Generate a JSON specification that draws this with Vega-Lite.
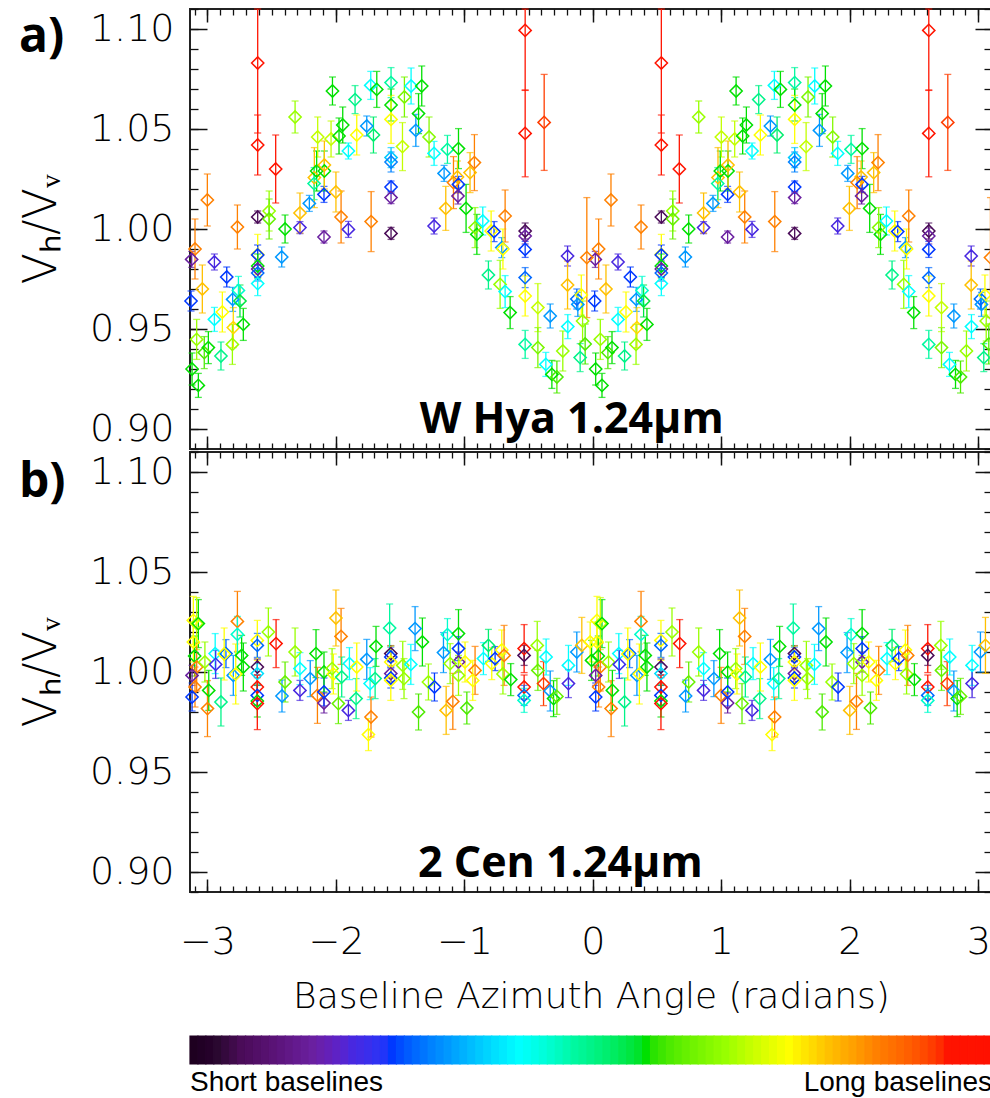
{
"$schema": "https://vega.github.io/schema/vega-lite/v6.json",
"padding": {"left": 17, "top": 7, "right": 0, "bottom": 2},
"background": "white",
"spacing": 20,
"datasets": {
"whya": [
{"x":-2.609,"y":1.083,"e":0.035,"c":0.95},{"x":0.533,"y":1.083,"e":0.035,"c":0.95},
{"x":-2.609,"y":1.042,"e":0.015,"c":0.95},{"x":0.533,"y":1.042,"e":0.015,"c":0.95},
{"x":-2.469,"y":1.03,"e":0.017,"c":0.95},{"x":0.673,"y":1.03,"e":0.017,"c":0.95},
{"x":-3.001,"y":1.0145,"e":0.013,"c":0.86},{"x":0.141,"y":1.0145,"e":0.013,"c":0.86},
{"x":-3.097,"y":0.99,"e":0.015,"c":0.86},{"x":0.045,"y":0.99,"e":0.015,"c":0.86},
{"x":-2.767,"y":1.001,"e":0.011,"c":0.86},{"x":0.375,"y":1.001,"e":0.011,"c":0.86},
{"x":-2.609,"y":1.006,"e":0.003,"c":0.06},{"x":0.533,"y":1.006,"e":0.003,"c":0.06},
{"x":-2.52,"y":1.009,"e":0.01,"c":0.67},{"x":0.622,"y":1.009,"e":0.01,"c":0.67},
{"x":-2.52,"y":1.005,"e":0.01,"c":0.62},{"x":0.622,"y":1.005,"e":0.01,"c":0.62},
{"x":-2.396,"y":1.0,"e":0.007,"c":0.57},{"x":0.746,"y":1.0,"e":0.007,"c":0.57},
{"x":-2.28,"y":1.0007,"e":0.003,"c":0.2},{"x":0.862,"y":1.0007,"e":0.003,"c":0.2},
{"x":-2.28,"y":1.008,"e":0.01,"c":0.8},{"x":0.862,"y":1.008,"e":0.01,"c":0.8},
{"x":-2.207,"y":1.0128,"e":0.004,"c":0.32},{"x":0.935,"y":1.0128,"e":0.004,"c":0.32},
{"x":-2.093,"y":1.0173,"e":0.004,"c":0.25},{"x":1.049,"y":1.0173,"e":0.004,"c":0.25},
{"x":-2.093,"y":0.996,"e":0.003,"c":0.15},{"x":1.049,"y":0.996,"e":0.003,"c":0.15},
{"x":-2.168,"y":1.0257,"e":0.015,"c":0.8},{"x":0.974,"y":1.0257,"e":0.015,"c":0.8},
{"x":-2.15,"y":1.029,"e":0.01,"c":0.57},{"x":0.992,"y":1.029,"e":0.01,"c":0.57},
{"x":-2.09,"y":1.029,"e":0.01,"c":0.57},{"x":1.052,"y":1.029,"e":0.01,"c":0.57},
{"x":-2.17,"y":1.0227,"e":0.008,"c":0.48},{"x":0.972,"y":1.0227,"e":0.008,"c":0.48},
{"x":-2.09,"y":1.032,"e":0.012,"c":0.8},{"x":1.052,"y":1.032,"e":0.012,"c":0.8},
{"x":-2.318,"y":1.056,"e":0.008,"c":0.67},{"x":0.824,"y":1.056,"e":0.008,"c":0.67},
{"x":-2.142,"y":1.046,"e":0.01,"c":0.7},{"x":1.0,"y":1.046,"e":0.01,"c":0.7},
{"x":-2.038,"y":1.045,"e":0.009,"c":0.7},{"x":1.104,"y":1.045,"e":0.009,"c":0.7},
{"x":-1.976,"y":1.0465,"e":0.009,"c":0.57},{"x":1.166,"y":1.0465,"e":0.009,"c":0.57},
{"x":-2.027,"y":1.069,"e":0.007,"c":0.57},{"x":1.115,"y":1.069,"e":0.007,"c":0.57},
{"x":-1.947,"y":1.052,"e":0.009,"c":0.57},{"x":1.195,"y":1.052,"e":0.009,"c":0.57},
{"x":-1.851,"y":1.0647,"e":0.007,"c":0.5},{"x":1.291,"y":1.0647,"e":0.007,"c":0.5},
{"x":-1.903,"y":1.039,"e":0.004,"c":0.41},{"x":1.239,"y":1.039,"e":0.004,"c":0.41},
{"x":-1.838,"y":1.047,"e":0.01,"c":0.75},{"x":1.304,"y":1.047,"e":0.01,"c":0.75},
{"x":-2.0,"y":1.0185,"e":0.01,"c":0.8},{"x":1.142,"y":1.0185,"e":0.01,"c":0.8},
{"x":-1.96,"y":1.006,"e":0.013,"c":0.86},{"x":1.182,"y":1.006,"e":0.013,"c":0.86},
{"x":-1.903,"y":0.9998,"e":0.004,"c":0.2},{"x":1.239,"y":0.9998,"e":0.004,"c":0.2},
{"x":-1.76,"y":1.0515,"e":0.005,"c":0.32},{"x":1.382,"y":1.0515,"e":0.005,"c":0.32},
{"x":-1.729,"y":1.0718,"e":0.007,"c":0.41},{"x":1.413,"y":1.0718,"e":0.007,"c":0.41},
{"x":-1.682,"y":1.0698,"e":0.009,"c":0.57},{"x":1.46,"y":1.0698,"e":0.009,"c":0.57},
{"x":-1.708,"y":1.047,"e":0.009,"c":0.52},{"x":1.434,"y":1.047,"e":0.009,"c":0.52},
{"x":-1.726,"y":1.0037,"e":0.015,"c":0.86},{"x":1.416,"y":1.0037,"e":0.015,"c":0.86},
{"x":-1.571,"y":1.0732,"e":0.0075,"c":0.48},{"x":1.571,"y":1.0732,"e":0.0075,"c":0.48},
{"x":-1.571,"y":1.062,"e":0.008,"c":0.57},{"x":1.571,"y":1.062,"e":0.008,"c":0.57},
{"x":-1.571,"y":1.0548,"e":0.012,"c":0.75},{"x":1.571,"y":1.0548,"e":0.012,"c":0.75},
{"x":-1.571,"y":1.0357,"e":0.005,"c":0.36},{"x":1.571,"y":1.0357,"e":0.005,"c":0.36},
{"x":-1.571,"y":1.0335,"e":0.005,"c":0.3},{"x":1.571,"y":1.0335,"e":0.005,"c":0.3},
{"x":-1.571,"y":1.021,"e":0.003,"c":0.25},{"x":1.571,"y":1.021,"e":0.003,"c":0.25},
{"x":-1.571,"y":1.0157,"e":0.003,"c":0.15},{"x":1.571,"y":1.0157,"e":0.003,"c":0.15},
{"x":-1.571,"y":0.9978,"e":0.003,"c":0.06},{"x":1.571,"y":0.9978,"e":0.003,"c":0.06},
{"x":-1.467,"y":1.066,"e":0.01,"c":0.64},{"x":1.675,"y":1.066,"e":0.01,"c":0.64},
{"x":-1.415,"y":1.0715,"e":0.009,"c":0.41},{"x":1.727,"y":1.0715,"e":0.009,"c":0.41},
{"x":-1.332,"y":1.0715,"e":0.01,"c":0.57},{"x":1.81,"y":1.0715,"e":0.01,"c":0.57},
{"x":-1.357,"y":1.0577,"e":0.01,"c":0.57},{"x":1.785,"y":1.0577,"e":0.01,"c":0.57},
{"x":-1.378,"y":1.0493,"e":0.008,"c":0.32},{"x":1.764,"y":1.0493,"e":0.008,"c":0.32},
{"x":-1.482,"y":1.0412,"e":0.012,"c":0.7},{"x":1.66,"y":1.0412,"e":0.012,"c":0.7},
{"x":-1.275,"y":1.046,"e":0.01,"c":0.65},{"x":1.867,"y":1.046,"e":0.01,"c":0.65},
{"x":-1.236,"y":1.0378,"e":0.006,"c":0.41},{"x":1.906,"y":1.0378,"e":0.006,"c":0.41},
{"x":-1.158,"y":1.0278,"e":0.004,"c":0.32},{"x":1.984,"y":1.0278,"e":0.004,"c":0.32},
{"x":-1.132,"y":1.0398,"e":0.007,"c":0.48},{"x":2.01,"y":1.0398,"e":0.007,"c":0.48},
{"x":-1.046,"y":1.0402,"e":0.01,"c":0.57},{"x":2.096,"y":1.0402,"e":0.01,"c":0.57},
{"x":-1.085,"y":1.0232,"e":0.013,"c":0.86},{"x":2.057,"y":1.0232,"e":0.013,"c":0.86},
{"x":-0.922,"y":1.0332,"e":0.014,"c":0.86},{"x":2.22,"y":1.0332,"e":0.014,"c":0.86},
{"x":-0.956,"y":1.0282,"e":0.01,"c":0.8},{"x":2.186,"y":1.0282,"e":0.01,"c":0.8},
{"x":-1.054,"y":1.026,"e":0.008,"c":0.8},{"x":2.088,"y":1.026,"e":0.008,"c":0.8},
{"x":-1.046,"y":1.0223,"e":0.004,"c":0.25},{"x":2.096,"y":1.0223,"e":0.004,"c":0.25},
{"x":-1.05,"y":1.0165,"e":0.004,"c":0.15},{"x":2.092,"y":1.0165,"e":0.004,"c":0.15},
{"x":-1.145,"y":1.0103,"e":0.011,"c":0.8},{"x":1.997,"y":1.0103,"e":0.011,"c":0.8},
{"x":-0.987,"y":1.0103,"e":0.012,"c":0.57},{"x":2.155,"y":1.0103,"e":0.012,"c":0.57},
{"x":-1.236,"y":1.0015,"e":0.004,"c":0.2},{"x":1.906,"y":1.0015,"e":0.004,"c":0.2},
{"x":-0.903,"y":0.9973,"e":0.01,"c":0.57},{"x":2.239,"y":0.9973,"e":0.01,"c":0.57},
{"x":-0.917,"y":1.0007,"e":0.01,"c":0.65},{"x":2.225,"y":1.0007,"e":0.01,"c":0.65},
{"x":-0.857,"y":1.004,"e":0.007,"c":0.41},{"x":2.285,"y":1.004,"e":0.007,"c":0.41},
{"x":-0.792,"y":0.999,"e":0.01,"c":0.75},{"x":2.35,"y":0.999,"e":0.01,"c":0.75},
{"x":-0.769,"y":0.9987,"e":0.005,"c":0.25},{"x":2.373,"y":0.9987,"e":0.005,"c":0.25},
{"x":-0.683,"y":1.0065,"e":0.013,"c":0.86},{"x":2.459,"y":1.0065,"e":0.013,"c":0.86},
{"x":-0.709,"y":0.9907,"e":0.005,"c":0.32},{"x":2.433,"y":0.9907,"e":0.005,"c":0.32},
{"x":-0.7,"y":0.99,"e":0.01,"c":0.75},{"x":2.442,"y":0.99,"e":0.01,"c":0.75},
{"x":-0.527,"y":0.999,"e":0.004,"c":0.06},{"x":2.615,"y":0.999,"e":0.004,"c":0.06},
{"x":-0.527,"y":0.9965,"e":0.004,"c":0.15},{"x":2.615,"y":0.9965,"e":0.004,"c":0.15},
{"x":-0.527,"y":0.9898,"e":0.004,"c":0.25},{"x":2.615,"y":0.9898,"e":0.004,"c":0.25},
{"x":-0.527,"y":0.9757,"e":0.005,"c":0.28},{"x":2.615,"y":0.9757,"e":0.005,"c":0.28},
{"x":-0.527,"y":0.9665,"e":0.01,"c":0.75},{"x":2.615,"y":0.9665,"e":0.01,"c":0.75},
{"x":-0.527,"y":1.0993,"e":0.03,"c":0.95},{"x":2.615,"y":1.0993,"e":0.03,"c":0.95},
{"x":-0.527,"y":1.0478,"e":0.0217,"c":0.95},{"x":2.615,"y":1.0478,"e":0.0217,"c":0.95},
{"x":-0.379,"y":1.0533,"e":0.024,"c":0.93},{"x":2.763,"y":1.0533,"e":0.024,"c":0.93},
{"x":-0.197,"y":0.9865,"e":0.005,"c":0.2},{"x":2.945,"y":0.9865,"e":0.005,"c":0.2},
{"x":-0.197,"y":0.972,"e":0.012,"c":0.8},{"x":2.945,"y":0.972,"e":0.012,"c":0.8},
{"x":-0.125,"y":0.965,"e":0.005,"c":0.28},{"x":3.017,"y":0.965,"e":0.005,"c":0.28},
{"x":-0.09,"y":0.967,"e":0.01,"c":0.75},{"x":3.052,"y":0.967,"e":0.01,"c":0.75},
{"x":-3.123,"y":0.9848,"e":0.004,"c":0.15},{"x":0.019,"y":0.9848,"e":0.004,"c":0.15},
{"x":-2.946,"y":0.9835,"e":0.004,"c":0.2},{"x":0.196,"y":0.9835,"e":0.004,"c":0.2},
{"x":-2.85,"y":0.976,"e":0.005,"c":0.25},{"x":0.292,"y":0.976,"e":0.005,"c":0.25},
{"x":-3.04,"y":0.97,"e":0.012,"c":0.8},{"x":0.102,"y":0.97,"e":0.012,"c":0.8},
{"x":-2.609,"y":0.9873,"e":0.01,"c":0.75},{"x":0.533,"y":0.9873,"e":0.01,"c":0.75},
{"x":-2.609,"y":0.987,"e":0.005,"c":0.25},{"x":0.533,"y":0.987,"e":0.005,"c":0.25},
{"x":-2.609,"y":0.9815,"e":0.006,"c":0.57},{"x":0.533,"y":0.9815,"e":0.006,"c":0.57},
{"x":-2.609,"y":0.98,"e":0.004,"c":0.15},{"x":0.533,"y":0.98,"e":0.004,"c":0.15},
{"x":-2.609,"y":0.978,"e":0.004,"c":0.28},{"x":0.533,"y":0.978,"e":0.004,"c":0.28},
{"x":-2.609,"y":0.9727,"e":0.006,"c":0.41},{"x":0.533,"y":0.9727,"e":0.006,"c":0.41},
{"x":-2.422,"y":0.986,"e":0.005,"c":0.32},{"x":0.72,"y":0.986,"e":0.005,"c":0.32},
{"x":-3.128,"y":0.964,"e":0.005,"c":0.25},{"x":0.014,"y":0.964,"e":0.005,"c":0.25},
{"x":-3.084,"y":0.9448,"e":0.01,"c":0.67},{"x":0.058,"y":0.9448,"e":0.01,"c":0.67},
{"x":-3.12,"y":0.93,"e":0.008,"c":0.57},{"x":0.022,"y":0.93,"e":0.008,"c":0.57},
{"x":-3.071,"y":0.9218,"e":0.006,"c":0.57},{"x":0.071,"y":0.9218,"e":0.006,"c":0.57},
{"x":-3.025,"y":0.9382,"e":0.008,"c":0.6},{"x":0.117,"y":0.9382,"e":0.008,"c":0.6},
{"x":-2.993,"y":0.9407,"e":0.008,"c":0.57},{"x":0.149,"y":0.9407,"e":0.008,"c":0.57},
{"x":-2.895,"y":0.9365,"e":0.007,"c":0.5},{"x":0.247,"y":0.9365,"e":0.007,"c":0.5},
{"x":-2.946,"y":0.9548,"e":0.006,"c":0.41},{"x":0.196,"y":0.9548,"e":0.006,"c":0.41},
{"x":-2.884,"y":0.9585,"e":0.01,"c":0.75},{"x":0.258,"y":0.9585,"e":0.01,"c":0.75},
{"x":-2.804,"y":0.9648,"e":0.006,"c":0.32},{"x":0.338,"y":0.9648,"e":0.006,"c":0.32},
{"x":-2.759,"y":0.9693,"e":0.007,"c":0.45},{"x":0.383,"y":0.9693,"e":0.007,"c":0.45},
{"x":-2.747,"y":0.964,"e":0.008,"c":0.55},{"x":0.395,"y":0.964,"e":0.008,"c":0.55},
{"x":-2.799,"y":0.9507,"e":0.01,"c":0.78},{"x":0.343,"y":0.9507,"e":0.01,"c":0.78},
{"x":-2.806,"y":0.9423,"e":0.01,"c":0.67},{"x":0.336,"y":0.9423,"e":0.01,"c":0.67},
{"x":-2.721,"y":0.9523,"e":0.008,"c":0.57},{"x":0.421,"y":0.9523,"e":0.008,"c":0.57},
{"x":-0.813,"y":0.977,"e":0.007,"c":0.5},{"x":2.329,"y":0.977,"e":0.007,"c":0.5},
{"x":-0.722,"y":0.9723,"e":0.012,"c":0.67},{"x":2.42,"y":0.9723,"e":0.012,"c":0.67},
{"x":-0.683,"y":0.9687,"e":0.008,"c":0.41},{"x":2.459,"y":0.9687,"e":0.008,"c":0.41},
{"x":-0.644,"y":0.9582,"e":0.008,"c":0.57},{"x":2.498,"y":0.9582,"e":0.008,"c":0.57},
{"x":-0.428,"y":0.9607,"e":0.012,"c":0.7},{"x":2.714,"y":0.9607,"e":0.012,"c":0.7},
{"x":-0.332,"y":0.9565,"e":0.006,"c":0.32},{"x":2.81,"y":0.9565,"e":0.006,"c":0.32},
{"x":-0.527,"y":0.9423,"e":0.007,"c":0.48},{"x":2.615,"y":0.9423,"e":0.007,"c":0.48},
{"x":-0.428,"y":0.9407,"e":0.01,"c":0.64},{"x":2.714,"y":0.9407,"e":0.01,"c":0.64},
{"x":-0.366,"y":0.9323,"e":0.006,"c":0.41},{"x":2.776,"y":0.9323,"e":0.006,"c":0.41},
{"x":-0.319,"y":0.9273,"e":0.007,"c":0.57},{"x":2.823,"y":0.9273,"e":0.007,"c":0.57},
{"x":-0.28,"y":0.926,"e":0.008,"c":0.6},{"x":2.862,"y":0.926,"e":0.008,"c":0.6},
{"x":-0.234,"y":0.939,"e":0.01,"c":0.67},{"x":2.908,"y":0.939,"e":0.01,"c":0.67},
{"x":-0.195,"y":0.9512,"e":0.006,"c":0.41},{"x":2.947,"y":0.9512,"e":0.006,"c":0.41},
{"x":-0.117,"y":0.9623,"e":0.006,"c":0.32},{"x":3.025,"y":0.9623,"e":0.006,"c":0.32},
{"x":-0.099,"y":0.9357,"e":0.007,"c":0.5},{"x":3.043,"y":0.9357,"e":0.007,"c":0.5},
{"x":-0.047,"y":0.9857,"e":0.03,"c":0.86},{"x":3.095,"y":0.9857,"e":0.03,"c":0.86},
{"x":-0.08,"y":0.954,"e":0.01,"c":0.67},{"x":3.062,"y":0.954,"e":0.01,"c":0.67},
{"x":-0.06,"y":0.9425,"e":0.01,"c":0.6},{"x":3.082,"y":0.9425,"e":0.01,"c":0.6}
],
"cen": [
{"x":-3.11,"y":1.0258,"e":0.012,"c":0.75},{"x":0.032,"y":1.0258,"e":0.012,"c":0.75},
{"x":-3.084,"y":1.0242,"e":0.013,"c":0.7},{"x":0.058,"y":1.0242,"e":0.013,"c":0.7},
{"x":-3.071,"y":1.0242,"e":0.012,"c":0.57},{"x":0.071,"y":1.0242,"e":0.012,"c":0.57},
{"x":-3.11,"y":1.015,"e":0.01,"c":0.75},{"x":0.032,"y":1.015,"e":0.01,"c":0.75},
{"x":-3.1,"y":1.008,"e":0.01,"c":0.57},{"x":0.042,"y":1.008,"e":0.01,"c":0.57},
{"x":-3.084,"y":1.0025,"e":0.012,"c":0.86},{"x":0.058,"y":1.0025,"e":0.012,"c":0.86},
{"x":-3.12,"y":0.9983,"e":0.005,"c":0.15},{"x":0.022,"y":0.9983,"e":0.005,"c":0.15},
{"x":-3.097,"y":0.9925,"e":0.01,"c":0.86},{"x":0.045,"y":0.9925,"e":0.01,"c":0.86},
{"x":-3.12,"y":0.9875,"e":0.007,"c":0.25},{"x":0.022,"y":0.9875,"e":0.007,"c":0.25},
{"x":-2.99,"y":0.9908,"e":0.01,"c":0.57},{"x":0.152,"y":0.9908,"e":0.01,"c":0.57},
{"x":-3.0,"y":0.9817,"e":0.014,"c":0.86},{"x":0.142,"y":0.9817,"e":0.014,"c":0.86},
{"x":-3.02,"y":1.005,"e":0.01,"c":0.67},{"x":0.122,"y":1.005,"e":0.01,"c":0.67},
{"x":-2.895,"y":0.985,"e":0.012,"c":0.5},{"x":0.247,"y":0.985,"e":0.012,"c":0.5},
{"x":-2.94,"y":1.0092,"e":0.01,"c":0.41},{"x":0.202,"y":1.0092,"e":0.01,"c":0.41},
{"x":-2.936,"y":1.0038,"e":0.007,"c":0.22},{"x":0.206,"y":1.0038,"e":0.007,"c":0.22},
{"x":-2.856,"y":1.0092,"e":0.007,"c":0.28},{"x":0.286,"y":1.0092,"e":0.007,"c":0.28},
{"x":-2.87,"y":1.009,"e":0.013,"c":0.75},{"x":0.272,"y":1.009,"e":0.013,"c":0.75},
{"x":-2.767,"y":1.0253,"e":0.015,"c":0.86},{"x":0.375,"y":1.0253,"e":0.015,"c":0.86},
{"x":-2.767,"y":1.0188,"e":0.009,"c":0.45},{"x":0.375,"y":1.0188,"e":0.009,"c":0.45},
{"x":-2.799,"y":0.9983,"e":0.01,"c":0.32},{"x":0.343,"y":0.9983,"e":0.01,"c":0.32},
{"x":-2.734,"y":1.0083,"e":0.01,"c":0.57},{"x":0.408,"y":1.0083,"e":0.01,"c":0.57},
{"x":-2.721,"y":1.0025,"e":0.012,"c":0.57},{"x":0.421,"y":1.0025,"e":0.012,"c":0.57},
{"x":-2.78,"y":0.999,"e":0.015,"c":0.75},{"x":0.362,"y":0.999,"e":0.015,"c":0.75},
{"x":-2.612,"y":1.0158,"e":0.01,"c":0.75},{"x":0.53,"y":1.0158,"e":0.01,"c":0.75},
{"x":-2.612,"y":1.0133,"e":0.006,"c":0.28},{"x":0.53,"y":1.0133,"e":0.006,"c":0.28},
{"x":-2.612,"y":1.0025,"e":0.004,"c":0.06},{"x":0.53,"y":1.0025,"e":0.004,"c":0.06},
{"x":-2.612,"y":0.9992,"e":0.005,"c":0.38},{"x":0.53,"y":0.9992,"e":0.005,"c":0.38},
{"x":-2.612,"y":0.9925,"e":0.006,"c":0.95},{"x":0.53,"y":0.9925,"e":0.006,"c":0.95},
{"x":-2.612,"y":0.9883,"e":0.005,"c":0.25},{"x":0.53,"y":0.9883,"e":0.005,"c":0.25},
{"x":-2.612,"y":0.9855,"e":0.008,"c":0.57},{"x":0.53,"y":0.9855,"e":0.008,"c":0.57},
{"x":-2.612,"y":0.9842,"e":0.013,"c":0.95},{"x":0.53,"y":0.9842,"e":0.013,"c":0.95},
{"x":-2.526,"y":1.02,"e":0.012,"c":0.67},{"x":0.616,"y":1.02,"e":0.012,"c":0.67},
{"x":-2.466,"y":1.0142,"e":0.012,"c":0.95},{"x":0.676,"y":1.0142,"e":0.012,"c":0.95},
{"x":-2.396,"y":0.995,"e":0.01,"c":0.62},{"x":0.746,"y":0.995,"e":0.01,"c":0.62},
{"x":-2.42,"y":0.988,"e":0.008,"c":0.32},{"x":0.722,"y":0.988,"e":0.008,"c":0.32},
{"x":-2.318,"y":1.01,"e":0.012,"c":0.67},{"x":0.824,"y":1.01,"e":0.012,"c":0.67},
{"x":-2.28,"y":1.0017,"e":0.008,"c":0.41},{"x":0.862,"y":1.0017,"e":0.008,"c":0.41},
{"x":-2.28,"y":0.9908,"e":0.005,"c":0.2},{"x":0.862,"y":0.9908,"e":0.005,"c":0.2},
{"x":-2.2,"y":0.9967,"e":0.009,"c":0.32},{"x":0.942,"y":0.9967,"e":0.009,"c":0.32},
{"x":-2.155,"y":1.0092,"e":0.012,"c":0.57},{"x":0.987,"y":1.0092,"e":0.012,"c":0.57},
{"x":-2.144,"y":0.9883,"e":0.014,"c":0.86},{"x":0.998,"y":0.9883,"e":0.014,"c":0.86},
{"x":-2.093,"y":0.9845,"e":0.005,"c":0.15},{"x":1.049,"y":0.9845,"e":0.005,"c":0.15},
{"x":-2.093,"y":0.99,"e":0.007,"c":0.25},{"x":1.049,"y":0.99,"e":0.007,"c":0.25},
{"x":-2.093,"y":1.0,"e":0.01,"c":0.57},{"x":1.049,"y":1.0,"e":0.01,"c":0.57},
{"x":-2.03,"y":1.0017,"e":0.01,"c":0.67},{"x":1.112,"y":1.0017,"e":0.01,"c":0.67},
{"x":-2.02,"y":0.999,"e":0.01,"c":0.75},{"x":1.122,"y":0.999,"e":0.01,"c":0.75},
{"x":-2.0,"y":1.027,"e":0.014,"c":0.8},{"x":1.142,"y":1.027,"e":0.014,"c":0.8},
{"x":-1.96,"y":1.0178,"e":0.014,"c":0.86},{"x":1.182,"y":1.0178,"e":0.014,"c":0.86},
{"x":-1.981,"y":0.9842,"e":0.01,"c":0.62},{"x":1.161,"y":0.9842,"e":0.01,"c":0.62},
{"x":-1.955,"y":0.9975,"e":0.01,"c":0.5},{"x":1.187,"y":0.9975,"e":0.01,"c":0.5},
{"x":-1.903,"y":0.9808,"e":0.005,"c":0.2},{"x":1.239,"y":0.9808,"e":0.005,"c":0.2},
{"x":-1.895,"y":1.0042,"e":0.008,"c":0.41},{"x":1.247,"y":1.0042,"e":0.008,"c":0.41},
{"x":-1.843,"y":0.9867,"e":0.01,"c":0.5},{"x":1.299,"y":0.9867,"e":0.01,"c":0.5},
{"x":-1.838,"y":1.0025,"e":0.012,"c":0.75},{"x":1.304,"y":1.0025,"e":0.012,"c":0.75},
{"x":-1.76,"y":1.0063,"e":0.01,"c":0.32},{"x":1.382,"y":1.0063,"e":0.01,"c":0.32},
{"x":-1.688,"y":1.0128,"e":0.01,"c":0.57},{"x":1.454,"y":1.0128,"e":0.01,"c":0.57},
{"x":-1.734,"y":0.9942,"e":0.008,"c":0.41},{"x":1.408,"y":0.9942,"e":0.008,"c":0.41},
{"x":-1.695,"y":0.9967,"e":0.01,"c":0.5},{"x":1.447,"y":0.9967,"e":0.01,"c":0.5},
{"x":-1.727,"y":0.9775,"e":0.01,"c":0.86},{"x":1.415,"y":0.9775,"e":0.01,"c":0.86},
{"x":-1.747,"y":0.9687,"e":0.008,"c":0.75},{"x":1.395,"y":0.9687,"e":0.008,"c":0.75},
{"x":-1.582,"y":1.022,"e":0.012,"c":0.48},{"x":1.56,"y":1.022,"e":0.012,"c":0.48},
{"x":-1.573,"y":1.0092,"e":0.004,"c":0.06},{"x":1.569,"y":1.0092,"e":0.004,"c":0.06},
{"x":-1.573,"y":1.0075,"e":0.005,"c":0.25},{"x":1.569,"y":1.0075,"e":0.005,"c":0.25},
{"x":-1.573,"y":1.005,"e":0.008,"c":0.75},{"x":1.569,"y":1.005,"e":0.008,"c":0.75},
{"x":-1.573,"y":0.9992,"e":0.004,"c":0.15},{"x":1.569,"y":0.9992,"e":0.004,"c":0.15},
{"x":-1.573,"y":0.997,"e":0.005,"c":0.25},{"x":1.569,"y":0.997,"e":0.005,"c":0.25},
{"x":-1.573,"y":0.9958,"e":0.01,"c":0.75},{"x":1.569,"y":0.9958,"e":0.01,"c":0.75},
{"x":-1.48,"y":1.0033,"e":0.012,"c":0.67},{"x":1.662,"y":1.0033,"e":0.012,"c":0.67},
{"x":-1.47,"y":0.9967,"e":0.01,"c":0.67},{"x":1.672,"y":0.9967,"e":0.01,"c":0.67},
{"x":-1.417,"y":1.0038,"e":0.01,"c":0.41},{"x":1.725,"y":1.0038,"e":0.01,"c":0.41},
{"x":-1.384,"y":1.0217,"e":0.011,"c":0.32},{"x":1.758,"y":1.0217,"e":0.011,"c":0.32},
{"x":-1.327,"y":1.015,"e":0.012,"c":0.57},{"x":1.815,"y":1.015,"e":0.012,"c":0.57},
{"x":-1.28,"y":0.995,"e":0.009,"c":0.67},{"x":1.862,"y":0.995,"e":0.009,"c":0.67},
{"x":-1.233,"y":0.9925,"e":0.007,"c":0.25},{"x":1.909,"y":0.9925,"e":0.007,"c":0.25},
{"x":-1.357,"y":0.98,"e":0.009,"c":0.6},{"x":1.785,"y":0.98,"e":0.009,"c":0.6},
{"x":-1.163,"y":1.0097,"e":0.01,"c":0.32},{"x":1.979,"y":1.0097,"e":0.01,"c":0.32},
{"x":-1.132,"y":1.0187,"e":0.008,"c":0.45},{"x":2.01,"y":1.0187,"e":0.008,"c":0.45},
{"x":-1.046,"y":1.0192,"e":0.012,"c":0.57},{"x":2.096,"y":1.0192,"e":0.012,"c":0.57},
{"x":-1.046,"y":1.0117,"e":0.006,"c":0.25},{"x":2.096,"y":1.0117,"e":0.006,"c":0.25},
{"x":-1.046,"y":1.005,"e":0.005,"c":0.15},{"x":2.096,"y":1.005,"e":0.005,"c":0.15},
{"x":-1.046,"y":0.9983,"e":0.01,"c":0.67},{"x":2.096,"y":0.9983,"e":0.01,"c":0.67},
{"x":-1.111,"y":1.0042,"e":0.01,"c":0.67},{"x":2.031,"y":1.0042,"e":0.01,"c":0.67},
{"x":-0.995,"y":1.005,"e":0.01,"c":0.75},{"x":2.147,"y":1.005,"e":0.01,"c":0.75},
{"x":-1.142,"y":0.9808,"e":0.012,"c":0.8},{"x":2.0,"y":0.9808,"e":0.012,"c":0.8},
{"x":-1.09,"y":0.9853,"e":0.014,"c":0.86},{"x":2.052,"y":0.9853,"e":0.014,"c":0.86},
{"x":-0.981,"y":0.982,"e":0.008,"c":0.6},{"x":2.161,"y":0.982,"e":0.008,"c":0.6},
{"x":-0.917,"y":1.0008,"e":0.012,"c":0.86},{"x":2.225,"y":1.0008,"e":0.012,"c":0.86},
{"x":-0.935,"y":0.9958,"e":0.01,"c":0.75},{"x":2.207,"y":0.9958,"e":0.01,"c":0.75},
{"x":-0.852,"y":1.0067,"e":0.008,"c":0.41},{"x":2.29,"y":1.0067,"e":0.008,"c":0.41},
{"x":-0.813,"y":1.0133,"e":0.008,"c":0.52},{"x":2.329,"y":1.0133,"e":0.008,"c":0.52},
{"x":-0.787,"y":1.0042,"e":0.008,"c":0.75},{"x":2.355,"y":1.0042,"e":0.008,"c":0.75},
{"x":-0.761,"y":1.0067,"e":0.006,"c":0.25},{"x":2.381,"y":1.0067,"e":0.006,"c":0.25},
{"x":-0.709,"y":1.011,"e":0.01,"c":0.75},{"x":2.433,"y":1.011,"e":0.01,"c":0.75},
{"x":-0.691,"y":1.0083,"e":0.015,"c":0.86},{"x":2.451,"y":1.0083,"e":0.015,"c":0.86},
{"x":-0.7,"y":0.999,"e":0.01,"c":0.67},{"x":2.442,"y":0.999,"e":0.01,"c":0.67},
{"x":-0.639,"y":0.9962,"e":0.008,"c":0.57},{"x":2.503,"y":0.9962,"e":0.008,"c":0.57},
{"x":-0.535,"y":1.0117,"e":0.012,"c":0.95},{"x":2.607,"y":1.0117,"e":0.012,"c":0.95},
{"x":-0.535,"y":1.0083,"e":0.005,"c":0.06},{"x":2.607,"y":1.0083,"e":0.005,"c":0.06},
{"x":-0.535,"y":0.9925,"e":0.006,"c":0.95},{"x":2.607,"y":0.9925,"e":0.006,"c":0.95},
{"x":-0.535,"y":0.9883,"e":0.005,"c":0.28},{"x":2.607,"y":0.9883,"e":0.005,"c":0.28},
{"x":-0.535,"y":0.9858,"e":0.006,"c":0.45},{"x":2.607,"y":0.9858,"e":0.006,"c":0.45},
{"x":-0.433,"y":1.0133,"e":0.012,"c":0.67},{"x":2.709,"y":1.0133,"e":0.012,"c":0.67},
{"x":-0.428,"y":1.0008,"e":0.01,"c":0.62},{"x":2.714,"y":1.0008,"e":0.01,"c":0.62},
{"x":-0.364,"y":1.0075,"e":0.009,"c":0.41},{"x":2.778,"y":1.0075,"e":0.009,"c":0.41},
{"x":-0.384,"y":0.9942,"e":0.011,"c":0.93},{"x":2.758,"y":0.9942,"e":0.011,"c":0.93},
{"x":-0.332,"y":0.9905,"e":0.01,"c":0.32},{"x":2.81,"y":0.9905,"e":0.01,"c":0.32},
{"x":-0.306,"y":0.9867,"e":0.009,"c":0.57},{"x":2.836,"y":0.9867,"e":0.009,"c":0.57},
{"x":-0.28,"y":0.9878,"e":0.009,"c":0.62},{"x":2.862,"y":0.9878,"e":0.009,"c":0.62},
{"x":-0.19,"y":1.0033,"e":0.01,"c":0.41},{"x":2.952,"y":1.0033,"e":0.01,"c":0.41},
{"x":-0.19,"y":0.9942,"e":0.007,"c":0.2},{"x":2.952,"y":0.9942,"e":0.007,"c":0.2},
{"x":-0.125,"y":1.01,"e":0.01,"c":0.32},{"x":3.017,"y":1.01,"e":0.01,"c":0.32},
{"x":-0.086,"y":1.0133,"e":0.014,"c":0.8},{"x":3.056,"y":1.0133,"e":0.014,"c":0.8},
{"x":-0.021,"y":1.015,"e":0.01,"c":0.75},
{"x":-0.01,"y":1.0058,"e":0.01,"c":0.57}
],
"bar": [
{"c":0.0},{"c":0.01},{"c":0.02},{"c":0.03},{"c":0.04},{"c":0.05},{"c":0.06},{"c":0.07},{"c":0.08},{"c":0.09},
{"c":0.1},{"c":0.11},{"c":0.12},{"c":0.13},{"c":0.14},{"c":0.15},{"c":0.16},{"c":0.17},{"c":0.18},{"c":0.19},
{"c":0.2},{"c":0.21},{"c":0.22},{"c":0.23},{"c":0.24},{"c":0.25},{"c":0.26},{"c":0.27},{"c":0.28},{"c":0.29},
{"c":0.3},{"c":0.31},{"c":0.32},{"c":0.33},{"c":0.34},{"c":0.35},{"c":0.36},{"c":0.37},{"c":0.38},{"c":0.39},
{"c":0.4},{"c":0.41},{"c":0.42},{"c":0.43},{"c":0.44},{"c":0.45},{"c":0.46},{"c":0.47},{"c":0.48},{"c":0.49},
{"c":0.5},{"c":0.51},{"c":0.52},{"c":0.53},{"c":0.54},{"c":0.55},{"c":0.56},{"c":0.57},{"c":0.58},{"c":0.59},
{"c":0.6},{"c":0.61},{"c":0.62},{"c":0.63},{"c":0.64},{"c":0.65},{"c":0.66},{"c":0.67},{"c":0.68},{"c":0.69},
{"c":0.7},{"c":0.71},{"c":0.72},{"c":0.73},{"c":0.74},{"c":0.75},{"c":0.76},{"c":0.77},{"c":0.78},{"c":0.79},
{"c":0.8},{"c":0.81},{"c":0.82},{"c":0.83},{"c":0.84},{"c":0.85},{"c":0.86},{"c":0.87},{"c":0.88},{"c":0.89},
{"c":0.9},{"c":0.91},{"c":0.92},{"c":0.93},{"c":0.94},{"c":0.95},{"c":0.96},{"c":0.97},{"c":0.98},{"c":0.99},
{"c":1.0}
]
},
"vconcat": [
{
"spacing": -1,
"vconcat": [
{
"width": 802, "height": 440,
"data": {"name": "whya"},
"layer": [
{"mark": {"type": "errorbar", "ticks": true, "size": 7, "thickness": 1.3},
 "encoding": {
  "x": {"field": "x", "type": "quantitative", "scale": {"domain": [-3.136, 3.107], "nice": false, "zero": false}, "axis": null},
  "y": {"field": "y", "type": "quantitative", "scale": {"domain": [0.89, 1.11], "nice": false, "zero": false, "clamp": true},
        "axis": {"values": [0.9, 0.95, 1, 1.05, 1.1], "format": ".2f", "ticks": false, "domain": false, "grid": false, "labelFont": "DejaVu Sans", "labelFontWeight": 200, "labelFontSize": 38, "labelColor": "#000", "labelPadding": 16, "labelFlush": false, "labelOverlap": false, "title": "Vₕ/Vᵥ", "titleFont": "DejaVu Sans", "titleFontWeight": 200, "titleFontSize": 46, "titleColor": "#000", "titlePadding": 24}},
  "yError": {"field": "e"},
  "color": {"field": "c", "type": "quantitative",
    "scale": {"domain": [0, 0.03, 0.06, 0.15, 0.2, 0.25, 0.32, 0.41, 0.48, 0.57, 0.67, 0.75, 0.8, 0.86, 0.95, 1], "range": ["#000000", "#2a0830", "#4a0c58", "#6a20a0", "#4828e0", "#0038ff", "#0098ff", "#00ffff", "#00f8a0", "#00e000", "#98ff00", "#ffff00", "#ffc000", "#ff8000", "#ff1400", "#ff1000"]},
    "legend": null}
 }},
{"mark": {"type": "point", "shape": "diamond", "filled": false, "size": 150, "strokeWidth": 1.5, "opacity": 1},
 "encoding": {
  "x": {"field": "x", "type": "quantitative", "axis": null},
  "y": {"field": "y", "type": "quantitative", "axis": null},
  "color": {"field": "c", "type": "quantitative", "legend": null}
 }},
{"data": {"values": [{"label": "W Hya 1.24μm", "px": -0.164, "py": 0.8982}]},
 "mark": {"type": "text", "font": "Open Sans", "fontWeight": "bold", "fontSize": 43, "align": "center", "baseline": "alphabetic", "color": "#000", "clip": false},
 "encoding": {
  "x": {"field": "px", "type": "quantitative", "axis": null},
  "y": {"field": "py", "type": "quantitative", "axis": null},
  "text": {"field": "label"}
 }},
{"data": {"values": [{"label": "a)", "px": -4.468, "py": 1.0885}]},
 "mark": {"type": "text", "font": "Open Sans", "fontWeight": "bold", "fontSize": 48, "align": "left", "baseline": "alphabetic", "color": "#000", "clip": false},
 "encoding": {
  "x": {"field": "px", "type": "quantitative", "axis": null},
  "y": {"field": "py", "type": "quantitative", "axis": null},
  "text": {"field": "label"}
 }},
{"mark": {"type": "point", "opacity": 0, "size": 1},
 "encoding": {
  "x": {"field": "x", "type": "quantitative", "axis": {"orient": "bottom", "tickCount": 62, "tickSize": -6, "tickWidth": 1.3, "tickColor": "#111", "labels": false, "domain": false, "grid": false, "title": null}},
  "y": {"field": "y", "type": "quantitative", "axis": {"orient": "left", "tickCount": 22, "tickSize": -8, "tickWidth": 1.3, "tickColor": "#111", "labels": false, "domain": false, "grid": false, "title": null}}
 }},
{"mark": {"type": "point", "opacity": 0, "size": 1},
 "encoding": {
  "x": {"field": "x", "type": "quantitative", "axis": {"orient": "bottom", "values": [-3, -2, -1, 0, 1, 2, 3], "tickSize": -13, "tickWidth": 1.5, "tickColor": "#111", "labels": false, "domain": false, "grid": false, "title": null}},
  "y": {"field": "y", "type": "quantitative", "axis": {"orient": "left", "values": [0.9, 0.95, 1, 1.05, 1.1], "tickSize": -17, "tickWidth": 1.5, "tickColor": "#111", "labels": false, "domain": false, "grid": false, "title": null}}
 }},
{"mark": {"type": "point", "opacity": 0, "size": 1},
 "encoding": {
  "x": {"field": "x", "type": "quantitative", "axis": {"orient": "top", "tickCount": 62, "tickSize": -6, "tickWidth": 1.3, "tickColor": "#111", "labels": false, "domain": false, "grid": false, "title": null}},
  "y": {"field": "y", "type": "quantitative", "axis": {"orient": "right", "tickCount": 22, "tickSize": -8, "tickWidth": 1.3, "tickColor": "#111", "labels": false, "domain": false, "grid": false, "title": null}}
 }},
{"mark": {"type": "point", "opacity": 0, "size": 1},
 "encoding": {
  "x": {"field": "x", "type": "quantitative", "axis": {"orient": "top", "values": [-3, -2, -1, 0, 1, 2, 3], "tickSize": -13, "tickWidth": 1.5, "tickColor": "#111", "labels": false, "domain": false, "grid": false, "title": null}},
  "y": {"field": "y", "type": "quantitative", "axis": {"orient": "right", "values": [0.9, 0.95, 1, 1.05, 1.1], "tickSize": -17, "tickWidth": 1.5, "tickColor": "#111", "labels": false, "domain": false, "grid": false, "title": null}}
 }}
],
"resolve": {"axis": {"x": "independent", "y": "independent"}}
},
{
"width": 802, "height": 440,
"data": {"name": "cen"},
"layer": [
{"mark": {"type": "errorbar", "ticks": true, "size": 7, "thickness": 1.3},
 "encoding": {
  "x": {"field": "x", "type": "quantitative", "scale": {"domain": [-3.136, 3.107], "nice": false, "zero": false},
        "axis": {"values": [-3, -2, -1, 0, 1, 2, 3], "format": "d", "ticks": false, "domain": false, "grid": false, "labelFont": "DejaVu Sans", "labelFontWeight": 200, "labelFontSize": 38, "labelColor": "#000", "labelPadding": 31, "labelFlush": false, "labelOverlap": false, "title": "Baseline Azimuth Angle (radians)", "titleFont": "DejaVu Sans", "titleFontWeight": 200, "titleFontSize": 36, "titleColor": "#000", "titlePadding": 18}},
  "y": {"field": "y", "type": "quantitative", "scale": {"domain": [0.89, 1.11], "nice": false, "zero": false, "clamp": true},
        "axis": {"values": [0.9, 0.95, 1, 1.05, 1.1], "format": ".2f", "ticks": false, "domain": false, "grid": false, "labelFont": "DejaVu Sans", "labelFontWeight": 200, "labelFontSize": 38, "labelColor": "#000", "labelPadding": 16, "labelFlush": false, "labelOverlap": false, "title": "Vₕ/Vᵥ", "titleFont": "DejaVu Sans", "titleFontWeight": 200, "titleFontSize": 46, "titleColor": "#000", "titlePadding": 24}},
  "yError": {"field": "e"},
  "color": {"field": "c", "type": "quantitative", "legend": null}
 }},
{"mark": {"type": "point", "shape": "diamond", "filled": false, "size": 150, "strokeWidth": 1.5, "opacity": 1},
 "encoding": {
  "x": {"field": "x", "type": "quantitative", "axis": null},
  "y": {"field": "y", "type": "quantitative", "axis": null},
  "color": {"field": "c", "type": "quantitative", "legend": null}
 }},
{"data": {"values": [{"label": "2 Cen 1.24μm", "px": -0.253, "py": 0.8977}]},
 "mark": {"type": "text", "font": "Open Sans", "fontWeight": "bold", "fontSize": 43, "align": "center", "baseline": "alphabetic", "color": "#000", "clip": false},
 "encoding": {
  "x": {"field": "px", "type": "quantitative", "axis": null},
  "y": {"field": "py", "type": "quantitative", "axis": null},
  "text": {"field": "label"}
 }},
{"data": {"values": [{"label": "b)", "px": -4.468, "py": 1.0875}]},
 "mark": {"type": "text", "font": "Open Sans", "fontWeight": "bold", "fontSize": 48, "align": "left", "baseline": "alphabetic", "color": "#000", "clip": false},
 "encoding": {
  "x": {"field": "px", "type": "quantitative", "axis": null},
  "y": {"field": "py", "type": "quantitative", "axis": null},
  "text": {"field": "label"}
 }},
{"mark": {"type": "point", "opacity": 0, "size": 1},
 "encoding": {
  "x": {"field": "x", "type": "quantitative", "axis": {"orient": "bottom", "tickCount": 62, "tickSize": -6, "tickWidth": 1.3, "tickColor": "#111", "labels": false, "domain": false, "grid": false, "title": null}},
  "y": {"field": "y", "type": "quantitative", "axis": {"orient": "left", "tickCount": 22, "tickSize": -8, "tickWidth": 1.3, "tickColor": "#111", "labels": false, "domain": false, "grid": false, "title": null}}
 }},
{"mark": {"type": "point", "opacity": 0, "size": 1},
 "encoding": {
  "x": {"field": "x", "type": "quantitative", "axis": {"orient": "bottom", "values": [-3, -2, -1, 0, 1, 2, 3], "tickSize": -13, "tickWidth": 1.5, "tickColor": "#111", "labels": false, "domain": false, "grid": false, "title": null}},
  "y": {"field": "y", "type": "quantitative", "axis": {"orient": "left", "values": [0.9, 0.95, 1, 1.05, 1.1], "tickSize": -17, "tickWidth": 1.5, "tickColor": "#111", "labels": false, "domain": false, "grid": false, "title": null}}
 }},
{"mark": {"type": "point", "opacity": 0, "size": 1},
 "encoding": {
  "x": {"field": "x", "type": "quantitative", "axis": {"orient": "top", "tickCount": 62, "tickSize": -6, "tickWidth": 1.3, "tickColor": "#111", "labels": false, "domain": false, "grid": false, "title": null}},
  "y": {"field": "y", "type": "quantitative", "axis": {"orient": "right", "tickCount": 22, "tickSize": -8, "tickWidth": 1.3, "tickColor": "#111", "labels": false, "domain": false, "grid": false, "title": null}}
 }},
{"mark": {"type": "point", "opacity": 0, "size": 1},
 "encoding": {
  "x": {"field": "x", "type": "quantitative", "axis": {"orient": "top", "values": [-3, -2, -1, 0, 1, 2, 3], "tickSize": -13, "tickWidth": 1.5, "tickColor": "#111", "labels": false, "domain": false, "grid": false, "title": null}},
  "y": {"field": "y", "type": "quantitative", "axis": {"orient": "right", "values": [0.9, 0.95, 1, 1.05, 1.1], "tickSize": -17, "tickWidth": 1.5, "tickColor": "#111", "labels": false, "domain": false, "grid": false, "title": null}}
 }}
],
"resolve": {"axis": {"x": "independent", "y": "independent"}}
}
]
},
{
"width": 802, "height": 28,
"view": {"stroke": null},
"data": {"name": "bar"},
"mark": {"type": "rect", "strokeWidth": 1.2},
"encoding": {
  "x": {"field": "c", "type": "ordinal", "scale": {"paddingInner": 0, "paddingOuter": 0},
        "axis": {"values": [0, 1], "labelExpr": "datum.value < 0.5 ? 'Short baselines' : 'Long baselines'", "ticks": false, "domain": false, "grid": false, "labelAngle": 0, "labelFont": "Liberation Sans", "labelFontSize": 28, "labelColor": "#000", "labelPadding": 4, "labelLimit": 400, "labelOverlap": false, "labelFlush": false,
                 "labelAlign": {"condition": {"test": "datum.value < 0.5", "value": "left"}, "value": "right"},
                 "labelOffset": {"condition": {"test": "datum.value < 0.5", "value": -4}, "value": 4},
                 "title": null}},
  "color": {"field": "c", "type": "quantitative", "legend": null},
  "stroke": {"field": "c", "type": "quantitative", "legend": null,
    "scale": {"domain": [0, 0.03, 0.06, 0.15, 0.2, 0.25, 0.32, 0.41, 0.48, 0.57, 0.67, 0.75, 0.8, 0.86, 0.95, 1], "range": ["#000000", "#2a0830", "#4a0c58", "#6a20a0", "#4828e0", "#0038ff", "#0098ff", "#00ffff", "#00f8a0", "#00e000", "#98ff00", "#ffff00", "#ffc000", "#ff8000", "#ff1400", "#ff1000"]}}
}
}
],
"resolve": {"scale": {"color": "shared"}, "legend": {"color": "shared"}},
"config": {"view": {"stroke": "#222", "strokeWidth": 2}}
}
